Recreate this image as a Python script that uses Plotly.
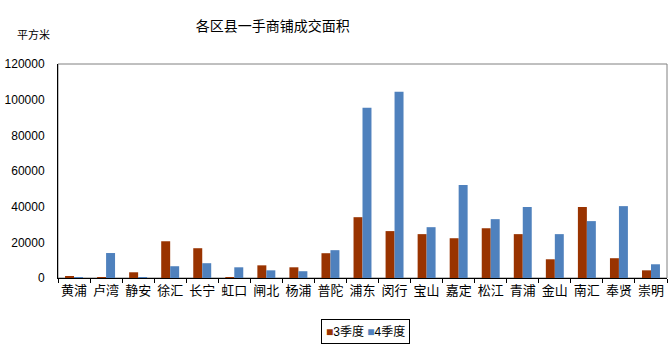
import plotly.graph_objects as go

districts = ["黄浦", "卢湾", "静安", "徐汇", "长宁", "虹口", "闸北", "杨浦", "普陀", "浦东",
             "闵行", "宝山", "嘉定", "松江", "青浦", "金山", "南汇", "奉贤", "崇明"]
q3 = [600, 500, 3200, 20600, 16700, 400, 7100, 6000, 13900, 34100,
      26300, 24600, 22300, 27900, 24600, 10500, 39800, 11100, 4300]
q4 = [500, 14000, 400, 6600, 8300, 6000, 4300, 3800, 15600, 95400,
      104400, 28500, 52100, 33000, 39800, 24600, 31900, 40300, 7700]
yticks = [0, 20000, 40000, 60000, 80000, 100000, 120000]
series_names = ["3季度", "4季度"]
colors = ["#993300", "#4F81BD"]

FONT = "Liberation Sans, Arial, Noto Sans CJK SC"
CJK = "Noto Sans CJK SC"

fig = go.Figure()
for name, vals, col in zip(series_names, [q3, q4], colors):
    fig.add_trace(go.Bar(name=name, x=districts, y=vals, marker=dict(color=col, line_width=0)))

fig.add_shape(type="rect", xref="paper", yref="paper", x0=0, y0=0, x1=1, y1=1,
              line=dict(color="#808080", width=1), layer="below")

legend_text = "&nbsp;".join(
    f"<span style='color:{c}'>■</span>{n}" for n, c in zip(series_names, colors))

fig.update_layout(
    width=672, height=349,
    margin=dict(l=58, r=5, t=64, b=71),
    paper_bgcolor="white", plot_bgcolor="white",
    font=dict(family=FONT, size=12, color="black"),
    barmode="group", bargap=0.44, bargroupgap=0,
    title=dict(text="各区县一手商铺成交面积", xref="container", x=0.406, xanchor="center",
               y=0.9255, yanchor="middle",
               font=dict(family=CJK, size=14, color="black")),
    showlegend=False,
    annotations=[
        dict(text="平方米", xref="paper", yref="paper", x=-0.0706, y=1.14,
             xanchor="left", yanchor="middle", showarrow=False,
             font=dict(family=CJK, size=11, color="black")),
        dict(text=legend_text, xref="paper", yref="paper", x=0.505, y=-0.19,
             xanchor="center", yanchor="top", showarrow=False,
             bordercolor="black", borderwidth=1, borderpad=4,
             font=dict(family=FONT, size=12, color="black")),
    ],
)
fig.update_xaxes(type="category", showline=True, linecolor="black", linewidth=1,
                 ticks="outside", tickson="boundaries", ticklen=4, tickcolor="black",
                 tickangle=0, showgrid=False, automargin=False,
                 tickfont=dict(family=CJK, size=13))
fig.update_yaxes(range=[0, 120000], tickvals=yticks, ticktext=[str(v) for v in yticks],
                 showline=True, linecolor="black", linewidth=1, showgrid=False,
                 ticks="", zeroline=False, ticklabelstandoff=10, automargin=False,
                 tickfont=dict(family=FONT, size=12))

fig.write_html("out.html", config={"displayModeBar": False},
               post_script="document.body.style.margin='0px';")
